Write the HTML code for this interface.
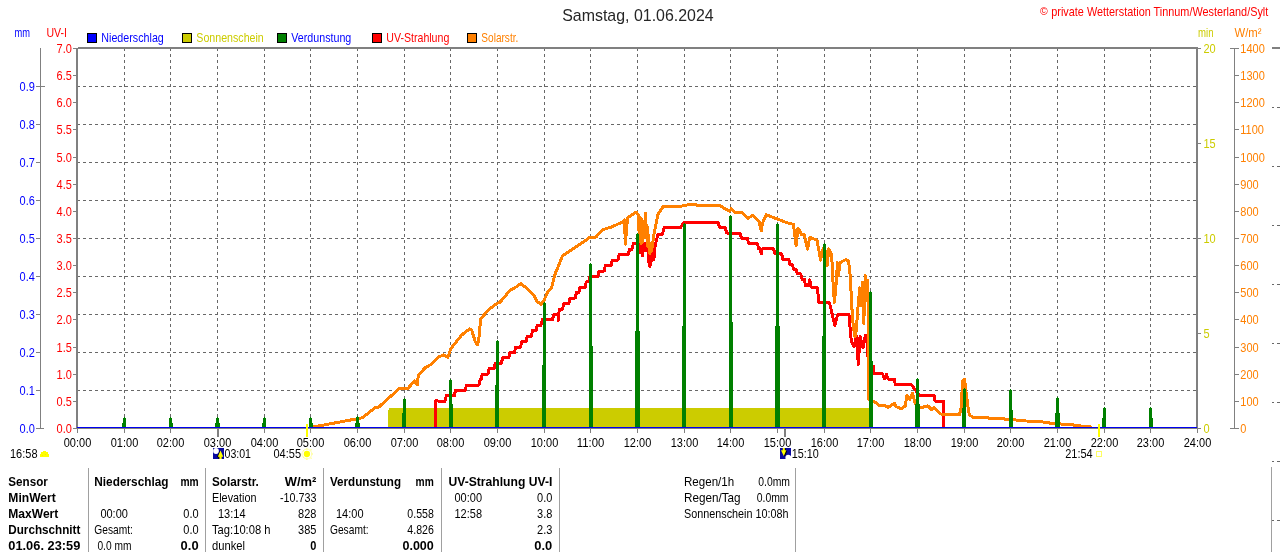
<!DOCTYPE html>
<html><head><meta charset="utf-8"><title>Samstag, 01.06.2024</title>
<style>html,body{margin:0;padding:0;background:#fff;overflow:hidden}svg{display:block;will-change:transform}text{font-family:"Liberation Sans", sans-serif;white-space:pre}</style></head><body>
<svg width="1280" height="552" viewBox="0 0 1280 552">
<rect x="0" y="0" width="1280" height="552" fill="#ffffff"/>
<g stroke="#686868" stroke-width="1" stroke-dasharray="3 3" shape-rendering="crispEdges" fill="none">
<line x1="124.5" y1="48" x2="124.5" y2="427"/>
<line x1="170.5" y1="48" x2="170.5" y2="427"/>
<line x1="217.5" y1="48" x2="217.5" y2="427"/>
<line x1="264.5" y1="48" x2="264.5" y2="427"/>
<line x1="310.5" y1="48" x2="310.5" y2="427"/>
<line x1="357.5" y1="48" x2="357.5" y2="427"/>
<line x1="404.5" y1="48" x2="404.5" y2="427"/>
<line x1="450.5" y1="48" x2="450.5" y2="427"/>
<line x1="497.5" y1="48" x2="497.5" y2="427"/>
<line x1="544.5" y1="48" x2="544.5" y2="427"/>
<line x1="590.5" y1="48" x2="590.5" y2="427"/>
<line x1="637.5" y1="48" x2="637.5" y2="427"/>
<line x1="684.5" y1="48" x2="684.5" y2="427"/>
<line x1="730.5" y1="48" x2="730.5" y2="427"/>
<line x1="777.5" y1="48" x2="777.5" y2="427"/>
<line x1="824.5" y1="48" x2="824.5" y2="427"/>
<line x1="870.5" y1="48" x2="870.5" y2="427"/>
<line x1="917.5" y1="48" x2="917.5" y2="427"/>
<line x1="964.5" y1="48" x2="964.5" y2="427"/>
<line x1="1010.5" y1="48" x2="1010.5" y2="427"/>
<line x1="1057.5" y1="48" x2="1057.5" y2="427"/>
<line x1="1104.5" y1="48" x2="1104.5" y2="427"/>
<line x1="1150.5" y1="48" x2="1150.5" y2="427"/>
<line x1="77" y1="390.5" x2="1196" y2="390.5"/>
<line x1="77" y1="352.5" x2="1196" y2="352.5"/>
<line x1="77" y1="314.5" x2="1196" y2="314.5"/>
<line x1="77" y1="276.5" x2="1196" y2="276.5"/>
<line x1="77" y1="238.5" x2="1196" y2="238.5"/>
<line x1="77" y1="200.5" x2="1196" y2="200.5"/>
<line x1="77" y1="162.5" x2="1196" y2="162.5"/>
<line x1="77" y1="124.5" x2="1196" y2="124.5"/>
<line x1="77" y1="86.5" x2="1196" y2="86.5"/>
</g>
<path d="M389 408H869V428H388V410H389Z" fill="#cccc00" shape-rendering="crispEdges"/>
<polyline fill="none" stroke="#ff0000" stroke-width="3" stroke-linejoin="round" stroke-linecap="butt" shape-rendering="crispEdges" points="435.5,428.0 435.5,400.9 445,401.3 446.2,395.8 454.3,395.8 455.5,390.4 465.2,390.4 466.4,385.0 479,385.0 480.2,379.5 481,379.5 482.2,374.1 488,374.1 489.2,368.7 494,368.7 495.2,363.3 501.4,363.3 502.59999999999997,357.8 508.7,357.8 509.9,352.4 514.5,352.4 515.7,347.0 520.5,347.0 521.7,341.5 526,341.5 527.2,336.1 531.3,336.1 532.5,330.7 536,330.7 537.2,325.3 541,325.3 542.2,319.8 552.5,319.8 553.7,314.4 558,314.4 558.4,320.4 559.2,309.0 562.5,309.0 563.7,303.5 568.8,303.5 570.0,298.1 575.2,298.1 576.4000000000001,292.7 578.8,292.7 580.0,287.3 585.1,287.3 586.3000000000001,281.8 588.8,281.8 590.0,276.4 597.8,276.4 599.0,271.0 604.2,271.0 605.4000000000001,265.5 611,265.5 612.2,260.1 618,260.1 619.2,254.7 628.3,254.7 629.5,249.3 632,249.3 633.2,243.8 639,243.8 640.4,253.0 641.4,243.5 642.6,255.5 643.6,243.5 644.6,250.5 645.6,243.5 646.6,250.5 647.6,244.0 648.6,262.0 649.4,248.0 650,266.5 651,250.0 652,261.0 653,250.0 653.8,260.0 655,247.0 656.5,240.0 658,234.0 662.5,234.0 664.3,227.5 680.6,227.5 684.2,222.2 717.8,222.2 719.6,227.1 725,227.1 726.8,233.0 740,233.0 741.5,238.1 747.2,238.1 748.7,243.2 757.2,243.2 758.7,248.8 760.4,248.8 761.2,254.0 762.2,248.8 773.5,248.8 775,253.9 781.6,253.9 783,259.3 788.9,259.3 790,264.7 792.5,264.7 793.6,269.3 796.1,269.3 797.3,273.8 800.7,273.8 802,279.2 804.3,279.2 805.6,285.6 808.6,285.6 809.7,280.0 810.8,285.6 811.8,287.5 817.2,287.5 819,302.5 829.6,303.0 832.6,316.0 834.8,325.7 837.8,314.2 848.9,314.2 851.2,340.5 854.1,346.5 856.4,336.0 858.3,364.3 860.1,336.0 863,348.0 865.3,335.3 867.2,337.5 868.4,366.0 873.5,366.0 874.2,373.7 882.5,373.7 884.3,379.0 886.5,374.4 888,379.0 894.3,379.0 895.3,384.6 911.5,384.6 915.1,389.8 919.7,395.4 934.2,395.4 935,401.0 943.2,401.0 943.2,428.0"/>
<polyline fill="none" stroke="#ff8000" stroke-width="3" stroke-linejoin="round" stroke-linecap="butt" shape-rendering="crispEdges" points="313,427.0 328.3,424.2 356.5,418.9 362.4,417.7 375.4,407.5 378.3,407.5 399,388.8 407.5,388.8 414.6,381.0 417.2,385.0 418.3,375.0 425.4,367.7 431.7,364.1 438.9,356.9 443.5,355.0 448,357.2 450.7,348.7 461.6,335.1 469.7,328.8 471.6,329.7 475.2,341.5 477.5,344.7 478.8,339.7 480.6,318.8 488.8,309.7 496.9,303.4 500,302.2 510,290.4 516.3,286.8 520.8,283.7 527.2,288.6 533.5,295.0 537.1,301.3 540.8,304.4 544.4,299.5 548,291.4 551.6,287.7 555.3,273.2 558,266.9 562.5,256.0 571.6,249.7 581.5,243.3 589.7,237.5 596,237.0 602.4,229.8 612.3,226.7 623.2,221.6 624.5,219.7 625.4,244.1 627.5,217.9 636.2,212.1 638,214.3 639.5,238.7 640.2,217.7 641,243.2 642,219.7 642.8,242.2 643.5,221.7 644.3,237.7 645.3,213.3 646.2,236.7 647,225.7 647.8,246.7 648.5,234.7 649.8,253.2 651.6,250.5 654.3,232.4 658,214.3 663.4,206.1 677.9,207.0 685.1,205.2 694.2,204.3 698.7,205.7 708.7,205.2 719.6,205.2 725,208.8 729.5,211.2 731.3,208.8 735.4,212.9 742.7,212.9 748.1,218.3 752.6,215.3 759,221.1 761.2,231.0 762.6,222.9 766.2,214.7 777.1,218.9 786.2,222.5 793.4,224.3 796.1,245.5 797.9,228.3 799.7,230.1 801.6,234.6 804.3,234.7 807.5,249.1 809.7,237.4 817,240.1 820.6,260.0 823.3,248.2 826,251.9 827.4,265.3 828.6,248.7 831.6,254.0 833.2,286.0 834.4,302.4 836.2,282.4 837.5,262.7 838.5,275.7 839.8,262.7 846.2,259.4 848.6,261.5 850.4,276.9 851.6,304.1 853.4,327.7 855,336.7 856.2,331.3 857.6,311.4 859.8,287.8 861,305.7 862.5,282.4 863.8,323.7 865.2,275.1 866.5,300.7 867.9,280.6 868.6,399.5 875.3,402.3 879.8,405.9 884.3,405.0 888,407.7 894.3,403.2 896.1,406.7 901.6,409.0 905.2,405.9 907,395.0 909.7,399.5 912.4,393.2 915.1,403.2 920.6,407.7 927.8,405.9 931.4,409.5 934.2,407.7 940.5,414.0 945.9,414.2 956.8,414.8 959.4,415.0 961.25,407.5 962.5,381.25 964.6,379.4 965.6,388.75 966.9,398.75 968.1,407.5 969.4,415.0 973.1,417.25 987.5,417.5 988.75,418.4 1003.75,418.75 1005,419.6 1015,419.6 1017.5,420.6 1026.25,421.0 1040,421.5 1050,423.1 1062.5,424.1 1072.5,424.6 1075,425.6 1087.5,426.5 1091.9,427.25"/>
<g fill="#008000" shape-rendering="crispEdges">
<rect x="124" y="417" width="1" height="2"/>
<rect x="123" y="418" width="3" height="10"/>
<rect x="122" y="423" width="4" height="5"/>
<rect x="170" y="417" width="1" height="2"/>
<rect x="169" y="418" width="3" height="10"/>
<rect x="169" y="423" width="4" height="5"/>
<rect x="217" y="417" width="1" height="2"/>
<rect x="216" y="418" width="3" height="10"/>
<rect x="215" y="423" width="5" height="5"/>
<rect x="264" y="417" width="1" height="2"/>
<rect x="263" y="418" width="3" height="10"/>
<rect x="262" y="423" width="4" height="5"/>
<rect x="310" y="417" width="1" height="2"/>
<rect x="309" y="418" width="3" height="10"/>
<rect x="309" y="423" width="4" height="5"/>
<rect x="357" y="416" width="1" height="2"/>
<rect x="356" y="417" width="3" height="11"/>
<rect x="355" y="423" width="5" height="5"/>
<rect x="404" y="398" width="1" height="2"/>
<rect x="403" y="399" width="3" height="29"/>
<rect x="402" y="413" width="4" height="15"/>
<rect x="450" y="379" width="1" height="2"/>
<rect x="449" y="380" width="3" height="48"/>
<rect x="449" y="404" width="4" height="24"/>
<rect x="497" y="340" width="1" height="2"/>
<rect x="496" y="341" width="3" height="87"/>
<rect x="495" y="385" width="4" height="43"/>
<rect x="544" y="302" width="1" height="2"/>
<rect x="543" y="303" width="3" height="125"/>
<rect x="542" y="365" width="4" height="63"/>
<rect x="590" y="263" width="1" height="2"/>
<rect x="589" y="264" width="3" height="164"/>
<rect x="589" y="346" width="4" height="82"/>
<rect x="637" y="233" width="1" height="2"/>
<rect x="636" y="234" width="3" height="194"/>
<rect x="635" y="331" width="5" height="97"/>
<rect x="684" y="223" width="1" height="2"/>
<rect x="683" y="224" width="3" height="204"/>
<rect x="682" y="326" width="4" height="102"/>
<rect x="730" y="215" width="1" height="2"/>
<rect x="729" y="216" width="3" height="212"/>
<rect x="729" y="322" width="4" height="106"/>
<rect x="777" y="223" width="1" height="2"/>
<rect x="776" y="224" width="3" height="204"/>
<rect x="775" y="326" width="5" height="102"/>
<rect x="824" y="243" width="1" height="2"/>
<rect x="823" y="244" width="3" height="184"/>
<rect x="822" y="336" width="4" height="92"/>
<rect x="870" y="291" width="1" height="2"/>
<rect x="869" y="292" width="3" height="136"/>
<rect x="869" y="361" width="4" height="67"/>
<rect x="917" y="378" width="1" height="2"/>
<rect x="916" y="379" width="3" height="49"/>
<rect x="915" y="404" width="5" height="24"/>
<rect x="964" y="388" width="1" height="2"/>
<rect x="963" y="389" width="3" height="39"/>
<rect x="962" y="408" width="4" height="20"/>
<rect x="1010" y="389" width="1" height="2"/>
<rect x="1009" y="390" width="3" height="38"/>
<rect x="1009" y="410" width="4" height="18"/>
<rect x="1057" y="397" width="1" height="2"/>
<rect x="1056" y="398" width="3" height="30"/>
<rect x="1055" y="413" width="5" height="15"/>
<rect x="1104" y="407" width="1" height="2"/>
<rect x="1103" y="408" width="3" height="20"/>
<rect x="1102" y="418" width="4" height="10"/>
<rect x="1150" y="407" width="1" height="2"/>
<rect x="1149" y="408" width="3" height="20"/>
<rect x="1149" y="418" width="4" height="10"/>
</g>
<g fill="#808080" shape-rendering="crispEdges">
<rect x="78" y="47" width="1120" height="2"/>
<rect x="76" y="48" width="2" height="381"/>
<rect x="1196" y="48" width="2" height="381"/>
<rect x="76" y="428" width="1122" height="1"/>
<rect x="77" y="429" width="1" height="4"/>
<rect x="124" y="429" width="1" height="4"/>
<rect x="170" y="429" width="1" height="4"/>
<rect x="217" y="429" width="1" height="4"/>
<rect x="264" y="429" width="1" height="4"/>
<rect x="310" y="429" width="1" height="4"/>
<rect x="357" y="429" width="1" height="4"/>
<rect x="404" y="429" width="1" height="4"/>
<rect x="450" y="429" width="1" height="4"/>
<rect x="497" y="429" width="1" height="4"/>
<rect x="544" y="429" width="1" height="4"/>
<rect x="590" y="429" width="1" height="4"/>
<rect x="637" y="429" width="1" height="4"/>
<rect x="684" y="429" width="1" height="4"/>
<rect x="730" y="429" width="1" height="4"/>
<rect x="777" y="429" width="1" height="4"/>
<rect x="824" y="429" width="1" height="4"/>
<rect x="870" y="429" width="1" height="4"/>
<rect x="917" y="429" width="1" height="4"/>
<rect x="964" y="429" width="1" height="4"/>
<rect x="1010" y="429" width="1" height="4"/>
<rect x="1057" y="429" width="1" height="4"/>
<rect x="1104" y="429" width="1" height="4"/>
<rect x="1150" y="429" width="1" height="4"/>
<rect x="1197" y="429" width="1" height="4"/>
<rect x="217" y="429" width="2" height="8"/>
<rect x="784" y="429" width="2" height="8"/>
<rect x="40" y="48" width="1" height="381"/>
<rect x="36" y="428" width="8" height="1"/>
<rect x="36" y="390" width="4" height="1"/>
<rect x="36" y="352" width="4" height="1"/>
<rect x="36" y="314" width="4" height="1"/>
<rect x="36" y="276" width="4" height="1"/>
<rect x="36" y="238" width="4" height="1"/>
<rect x="36" y="200" width="4" height="1"/>
<rect x="36" y="162" width="4" height="1"/>
<rect x="36" y="124" width="4" height="1"/>
<rect x="36" y="86" width="9" height="1"/>
<rect x="73" y="428" width="3" height="1"/>
<rect x="73" y="401" width="3" height="1"/>
<rect x="73" y="374" width="3" height="1"/>
<rect x="73" y="347" width="3" height="1"/>
<rect x="73" y="319" width="3" height="1"/>
<rect x="73" y="292" width="3" height="1"/>
<rect x="73" y="265" width="3" height="1"/>
<rect x="73" y="238" width="3" height="1"/>
<rect x="73" y="211" width="3" height="1"/>
<rect x="73" y="184" width="3" height="1"/>
<rect x="73" y="157" width="3" height="1"/>
<rect x="73" y="129" width="3" height="1"/>
<rect x="73" y="102" width="3" height="1"/>
<rect x="73" y="75" width="3" height="1"/>
<rect x="73" y="48" width="3" height="1"/>
<rect x="1198" y="428" width="3" height="1"/>
<rect x="1198" y="333" width="3" height="1"/>
<rect x="1198" y="238" width="3" height="1"/>
<rect x="1198" y="143" width="3" height="1"/>
<rect x="1198" y="48" width="3" height="1"/>
<rect x="1234" y="48" width="1" height="381"/>
<rect x="1230" y="428" width="9" height="1"/>
<rect x="1235" y="401" width="4" height="1"/>
<rect x="1235" y="374" width="4" height="1"/>
<rect x="1235" y="347" width="4" height="1"/>
<rect x="1235" y="319" width="4" height="1"/>
<rect x="1235" y="292" width="4" height="1"/>
<rect x="1235" y="265" width="4" height="1"/>
<rect x="1235" y="238" width="4" height="1"/>
<rect x="1235" y="211" width="4" height="1"/>
<rect x="1235" y="184" width="4" height="1"/>
<rect x="1235" y="157" width="4" height="1"/>
<rect x="1235" y="129" width="4" height="1"/>
<rect x="1235" y="102" width="4" height="1"/>
<rect x="1235" y="75" width="4" height="1"/>
<rect x="1230" y="48" width="9" height="1"/>
</g>
<rect x="77" y="427" width="1120" height="1" fill="#0000f0" shape-rendering="crispEdges"/>
<rect x="306" y="424" width="2" height="13" fill="#ffff00" shape-rendering="crispEdges"/>
<rect x="1098" y="424" width="2" height="13" fill="#ffff00" shape-rendering="crispEdges"/>
<g fill="#808080" shape-rendering="crispEdges">
<rect x="1272" y="47" width="8" height="2"/>
</g>
<rect x="1271" y="467" width="1" height="85" fill="#a0a0a0" shape-rendering="crispEdges"/>
<g fill="#686868" shape-rendering="crispEdges">
<rect x="1272" y="107" width="2" height="1"/><rect x="1277" y="107" width="3" height="1"/>
<rect x="1272" y="166" width="2" height="1"/><rect x="1277" y="166" width="3" height="1"/>
<rect x="1272" y="225" width="2" height="1"/><rect x="1277" y="225" width="3" height="1"/>
<rect x="1272" y="284" width="2" height="1"/><rect x="1277" y="284" width="3" height="1"/>
<rect x="1272" y="343" width="2" height="1"/><rect x="1277" y="343" width="3" height="1"/>
<rect x="1272" y="402" width="2" height="1"/><rect x="1277" y="402" width="3" height="1"/>
<rect x="1272" y="461" width="2" height="1"/><rect x="1277" y="461" width="3" height="1"/>
<rect x="1272" y="520" width="2" height="1"/><rect x="1277" y="520" width="3" height="1"/>
</g>
<text transform="translate(562.2 21) scale(0.955 1)" text-anchor="start" fill="#262626" font-weight="normal" font-size="16.75" textLength="158.64" lengthAdjust="spacingAndGlyphs">Samstag, 01.06.2024</text>
<text transform="translate(1040 14.6) scale(1 1)" text-anchor="start" fill="#ff0000" font-weight="normal" font-size="10.5">©</text>
<text transform="translate(1051.3 16) scale(0.88 1)" text-anchor="start" fill="#ff0000" font-weight="normal" font-size="12.5" textLength="246.59" lengthAdjust="spacingAndGlyphs">private Wetterstation Tinnum/Westerland/Sylt</text>
<text transform="translate(14.5 37) scale(0.88 1)" text-anchor="start" fill="#0000ff" font-weight="normal" font-size="12.5" textLength="17.61" lengthAdjust="spacingAndGlyphs">mm</text>
<text transform="translate(46.5 37) scale(0.88 1)" text-anchor="start" fill="#ff0000" font-weight="normal" font-size="12.5" textLength="23.3" lengthAdjust="spacingAndGlyphs">UV-I</text>
<text transform="translate(1198 37) scale(0.88 1)" text-anchor="start" fill="#cccc00" font-weight="normal" font-size="12.5" textLength="17.61" lengthAdjust="spacingAndGlyphs">min</text>
<text transform="translate(1234.5 37) scale(0.88 1)" text-anchor="start" fill="#ff8000" font-weight="normal" font-size="12.5" textLength="30.68" lengthAdjust="spacingAndGlyphs">W/m²</text>
<rect x="87.5" y="33.5" width="9" height="9" fill="#0000ff" stroke="#000" stroke-width="1" shape-rendering="crispEdges"/>
<text transform="translate(101.3 42) scale(0.88 1)" text-anchor="start" fill="#0000ff" font-weight="normal" font-size="12.5" textLength="71.02" lengthAdjust="spacingAndGlyphs">Niederschlag</text>
<rect x="182.5" y="33.5" width="9" height="9" fill="#cccc00" stroke="#000" stroke-width="1" shape-rendering="crispEdges"/>
<text transform="translate(196.3 42) scale(0.88 1)" text-anchor="start" fill="#cccc00" font-weight="normal" font-size="12.5" textLength="76.7" lengthAdjust="spacingAndGlyphs">Sonnenschein</text>
<rect x="277.5" y="33.5" width="9" height="9" fill="#008000" stroke="#000" stroke-width="1" shape-rendering="crispEdges"/>
<text transform="translate(291.3 42) scale(0.88 1)" text-anchor="start" fill="#0000ff" font-weight="normal" font-size="12.5" textLength="68.18" lengthAdjust="spacingAndGlyphs">Verdunstung</text>
<rect x="372.5" y="33.5" width="9" height="9" fill="#ff0000" stroke="#000" stroke-width="1" shape-rendering="crispEdges"/>
<text transform="translate(386.3 42) scale(0.88 1)" text-anchor="start" fill="#ff0000" font-weight="normal" font-size="12.5" textLength="71.59" lengthAdjust="spacingAndGlyphs">UV-Strahlung</text>
<rect x="467.5" y="33.5" width="9" height="9" fill="#ff8000" stroke="#000" stroke-width="1" shape-rendering="crispEdges"/>
<text transform="translate(481.3 42) scale(0.88 1)" text-anchor="start" fill="#ff8000" font-weight="normal" font-size="12.5" textLength="42.05" lengthAdjust="spacingAndGlyphs">Solarstr.</text>
<text transform="translate(34.8 433) scale(0.88 1)" text-anchor="end" fill="#0000ff" font-weight="normal" font-size="12.5">0.0</text>
<text transform="translate(34.8 395) scale(0.88 1)" text-anchor="end" fill="#0000ff" font-weight="normal" font-size="12.5">0.1</text>
<text transform="translate(34.8 357) scale(0.88 1)" text-anchor="end" fill="#0000ff" font-weight="normal" font-size="12.5">0.2</text>
<text transform="translate(34.8 319) scale(0.88 1)" text-anchor="end" fill="#0000ff" font-weight="normal" font-size="12.5">0.3</text>
<text transform="translate(34.8 281) scale(0.88 1)" text-anchor="end" fill="#0000ff" font-weight="normal" font-size="12.5">0.4</text>
<text transform="translate(34.8 243) scale(0.88 1)" text-anchor="end" fill="#0000ff" font-weight="normal" font-size="12.5">0.5</text>
<text transform="translate(34.8 205) scale(0.88 1)" text-anchor="end" fill="#0000ff" font-weight="normal" font-size="12.5">0.6</text>
<text transform="translate(34.8 167) scale(0.88 1)" text-anchor="end" fill="#0000ff" font-weight="normal" font-size="12.5">0.7</text>
<text transform="translate(34.8 129) scale(0.88 1)" text-anchor="end" fill="#0000ff" font-weight="normal" font-size="12.5">0.8</text>
<text transform="translate(34.8 91) scale(0.88 1)" text-anchor="end" fill="#0000ff" font-weight="normal" font-size="12.5">0.9</text>
<text transform="translate(71.8 433) scale(0.88 1)" text-anchor="end" fill="#ff0000" font-weight="normal" font-size="12.5">0.0</text>
<text transform="translate(71.8 406) scale(0.88 1)" text-anchor="end" fill="#ff0000" font-weight="normal" font-size="12.5">0.5</text>
<text transform="translate(71.8 379) scale(0.88 1)" text-anchor="end" fill="#ff0000" font-weight="normal" font-size="12.5">1.0</text>
<text transform="translate(71.8 352) scale(0.88 1)" text-anchor="end" fill="#ff0000" font-weight="normal" font-size="12.5">1.5</text>
<text transform="translate(71.8 324) scale(0.88 1)" text-anchor="end" fill="#ff0000" font-weight="normal" font-size="12.5">2.0</text>
<text transform="translate(71.8 297) scale(0.88 1)" text-anchor="end" fill="#ff0000" font-weight="normal" font-size="12.5">2.5</text>
<text transform="translate(71.8 270) scale(0.88 1)" text-anchor="end" fill="#ff0000" font-weight="normal" font-size="12.5">3.0</text>
<text transform="translate(71.8 243) scale(0.88 1)" text-anchor="end" fill="#ff0000" font-weight="normal" font-size="12.5">3.5</text>
<text transform="translate(71.8 216) scale(0.88 1)" text-anchor="end" fill="#ff0000" font-weight="normal" font-size="12.5">4.0</text>
<text transform="translate(71.8 189) scale(0.88 1)" text-anchor="end" fill="#ff0000" font-weight="normal" font-size="12.5">4.5</text>
<text transform="translate(71.8 162) scale(0.88 1)" text-anchor="end" fill="#ff0000" font-weight="normal" font-size="12.5">5.0</text>
<text transform="translate(71.8 134) scale(0.88 1)" text-anchor="end" fill="#ff0000" font-weight="normal" font-size="12.5">5.5</text>
<text transform="translate(71.8 107) scale(0.88 1)" text-anchor="end" fill="#ff0000" font-weight="normal" font-size="12.5">6.0</text>
<text transform="translate(71.8 80) scale(0.88 1)" text-anchor="end" fill="#ff0000" font-weight="normal" font-size="12.5">6.5</text>
<text transform="translate(71.8 53) scale(0.88 1)" text-anchor="end" fill="#ff0000" font-weight="normal" font-size="12.5">7.0</text>
<text transform="translate(1203.5 433) scale(0.88 1)" text-anchor="start" fill="#cccc00" font-weight="normal" font-size="12.5">0</text>
<text transform="translate(1203.5 338) scale(0.88 1)" text-anchor="start" fill="#cccc00" font-weight="normal" font-size="12.5">5</text>
<text transform="translate(1203.5 243) scale(0.88 1)" text-anchor="start" fill="#cccc00" font-weight="normal" font-size="12.5">10</text>
<text transform="translate(1203.5 148) scale(0.88 1)" text-anchor="start" fill="#cccc00" font-weight="normal" font-size="12.5">15</text>
<text transform="translate(1203.5 53) scale(0.88 1)" text-anchor="start" fill="#cccc00" font-weight="normal" font-size="12.5">20</text>
<text transform="translate(1240.3 433) scale(0.88 1)" text-anchor="start" fill="#ff8000" font-weight="normal" font-size="12.5">0</text>
<text transform="translate(1240.3 406) scale(0.88 1)" text-anchor="start" fill="#ff8000" font-weight="normal" font-size="12.5">100</text>
<text transform="translate(1240.3 379) scale(0.88 1)" text-anchor="start" fill="#ff8000" font-weight="normal" font-size="12.5">200</text>
<text transform="translate(1240.3 352) scale(0.88 1)" text-anchor="start" fill="#ff8000" font-weight="normal" font-size="12.5">300</text>
<text transform="translate(1240.3 324) scale(0.88 1)" text-anchor="start" fill="#ff8000" font-weight="normal" font-size="12.5">400</text>
<text transform="translate(1240.3 297) scale(0.88 1)" text-anchor="start" fill="#ff8000" font-weight="normal" font-size="12.5">500</text>
<text transform="translate(1240.3 270) scale(0.88 1)" text-anchor="start" fill="#ff8000" font-weight="normal" font-size="12.5">600</text>
<text transform="translate(1240.3 243) scale(0.88 1)" text-anchor="start" fill="#ff8000" font-weight="normal" font-size="12.5">700</text>
<text transform="translate(1240.3 216) scale(0.88 1)" text-anchor="start" fill="#ff8000" font-weight="normal" font-size="12.5">800</text>
<text transform="translate(1240.3 189) scale(0.88 1)" text-anchor="start" fill="#ff8000" font-weight="normal" font-size="12.5">900</text>
<text transform="translate(1240.3 162) scale(0.88 1)" text-anchor="start" fill="#ff8000" font-weight="normal" font-size="12.5">1000</text>
<text transform="translate(1240.3 134) scale(0.88 1)" text-anchor="start" fill="#ff8000" font-weight="normal" font-size="12.5">1100</text>
<text transform="translate(1240.3 107) scale(0.88 1)" text-anchor="start" fill="#ff8000" font-weight="normal" font-size="12.5">1200</text>
<text transform="translate(1240.3 80) scale(0.88 1)" text-anchor="start" fill="#ff8000" font-weight="normal" font-size="12.5">1300</text>
<text transform="translate(1240.3 53) scale(0.88 1)" text-anchor="start" fill="#ff8000" font-weight="normal" font-size="12.5">1400</text>
<text transform="translate(77.5 447) scale(0.88 1)" text-anchor="middle" fill="#000" font-weight="normal" font-size="12.5" textLength="31.25" lengthAdjust="spacingAndGlyphs">00:00</text>
<text transform="translate(124.5 447) scale(0.88 1)" text-anchor="middle" fill="#000" font-weight="normal" font-size="12.5" textLength="31.25" lengthAdjust="spacingAndGlyphs">01:00</text>
<text transform="translate(170.5 447) scale(0.88 1)" text-anchor="middle" fill="#000" font-weight="normal" font-size="12.5" textLength="31.25" lengthAdjust="spacingAndGlyphs">02:00</text>
<text transform="translate(217.5 447) scale(0.88 1)" text-anchor="middle" fill="#000" font-weight="normal" font-size="12.5" textLength="31.25" lengthAdjust="spacingAndGlyphs">03:00</text>
<text transform="translate(264.5 447) scale(0.88 1)" text-anchor="middle" fill="#000" font-weight="normal" font-size="12.5" textLength="31.25" lengthAdjust="spacingAndGlyphs">04:00</text>
<text transform="translate(310.5 447) scale(0.88 1)" text-anchor="middle" fill="#000" font-weight="normal" font-size="12.5" textLength="31.25" lengthAdjust="spacingAndGlyphs">05:00</text>
<text transform="translate(357.5 447) scale(0.88 1)" text-anchor="middle" fill="#000" font-weight="normal" font-size="12.5" textLength="31.25" lengthAdjust="spacingAndGlyphs">06:00</text>
<text transform="translate(404.5 447) scale(0.88 1)" text-anchor="middle" fill="#000" font-weight="normal" font-size="12.5" textLength="31.25" lengthAdjust="spacingAndGlyphs">07:00</text>
<text transform="translate(450.5 447) scale(0.88 1)" text-anchor="middle" fill="#000" font-weight="normal" font-size="12.5" textLength="31.25" lengthAdjust="spacingAndGlyphs">08:00</text>
<text transform="translate(497.5 447) scale(0.88 1)" text-anchor="middle" fill="#000" font-weight="normal" font-size="12.5" textLength="31.25" lengthAdjust="spacingAndGlyphs">09:00</text>
<text transform="translate(544.5 447) scale(0.88 1)" text-anchor="middle" fill="#000" font-weight="normal" font-size="12.5" textLength="31.25" lengthAdjust="spacingAndGlyphs">10:00</text>
<text transform="translate(590.5 447) scale(0.88 1)" text-anchor="middle" fill="#000" font-weight="normal" font-size="12.5" textLength="31.25" lengthAdjust="spacingAndGlyphs">11:00</text>
<text transform="translate(637.5 447) scale(0.88 1)" text-anchor="middle" fill="#000" font-weight="normal" font-size="12.5" textLength="31.25" lengthAdjust="spacingAndGlyphs">12:00</text>
<text transform="translate(684.5 447) scale(0.88 1)" text-anchor="middle" fill="#000" font-weight="normal" font-size="12.5" textLength="31.25" lengthAdjust="spacingAndGlyphs">13:00</text>
<text transform="translate(730.5 447) scale(0.88 1)" text-anchor="middle" fill="#000" font-weight="normal" font-size="12.5" textLength="31.25" lengthAdjust="spacingAndGlyphs">14:00</text>
<text transform="translate(777.5 447) scale(0.88 1)" text-anchor="middle" fill="#000" font-weight="normal" font-size="12.5" textLength="31.25" lengthAdjust="spacingAndGlyphs">15:00</text>
<text transform="translate(824.5 447) scale(0.88 1)" text-anchor="middle" fill="#000" font-weight="normal" font-size="12.5" textLength="31.25" lengthAdjust="spacingAndGlyphs">16:00</text>
<text transform="translate(870.5 447) scale(0.88 1)" text-anchor="middle" fill="#000" font-weight="normal" font-size="12.5" textLength="31.25" lengthAdjust="spacingAndGlyphs">17:00</text>
<text transform="translate(917.5 447) scale(0.88 1)" text-anchor="middle" fill="#000" font-weight="normal" font-size="12.5" textLength="31.25" lengthAdjust="spacingAndGlyphs">18:00</text>
<text transform="translate(964.5 447) scale(0.88 1)" text-anchor="middle" fill="#000" font-weight="normal" font-size="12.5" textLength="31.25" lengthAdjust="spacingAndGlyphs">19:00</text>
<text transform="translate(1010.5 447) scale(0.88 1)" text-anchor="middle" fill="#000" font-weight="normal" font-size="12.5" textLength="31.25" lengthAdjust="spacingAndGlyphs">20:00</text>
<text transform="translate(1057.5 447) scale(0.88 1)" text-anchor="middle" fill="#000" font-weight="normal" font-size="12.5" textLength="31.25" lengthAdjust="spacingAndGlyphs">21:00</text>
<text transform="translate(1104.5 447) scale(0.88 1)" text-anchor="middle" fill="#000" font-weight="normal" font-size="12.5" textLength="31.25" lengthAdjust="spacingAndGlyphs">22:00</text>
<text transform="translate(1150.5 447) scale(0.88 1)" text-anchor="middle" fill="#000" font-weight="normal" font-size="12.5" textLength="31.25" lengthAdjust="spacingAndGlyphs">23:00</text>
<text transform="translate(1197.5 447) scale(0.88 1)" text-anchor="middle" fill="#000" font-weight="normal" font-size="12.5" textLength="31.25" lengthAdjust="spacingAndGlyphs">24:00</text>
<text transform="translate(10 458) scale(0.88 1)" text-anchor="start" fill="#000" font-weight="normal" font-size="12.5" textLength="31.25" lengthAdjust="spacingAndGlyphs">16:58</text>
<text transform="translate(224.5 458) scale(0.88 1)" text-anchor="start" fill="#000" font-weight="normal" font-size="12.5" textLength="30.11" lengthAdjust="spacingAndGlyphs">03:01</text>
<text transform="translate(273.5 458) scale(0.88 1)" text-anchor="start" fill="#000" font-weight="normal" font-size="12.5" textLength="31.25" lengthAdjust="spacingAndGlyphs">04:55</text>
<text transform="translate(791.8 458) scale(0.88 1)" text-anchor="start" fill="#000" font-weight="normal" font-size="12.5" textLength="30.68" lengthAdjust="spacingAndGlyphs">15:10</text>
<text transform="translate(1065.2 458) scale(0.88 1)" text-anchor="start" fill="#000" font-weight="normal" font-size="12.5" textLength="31.25" lengthAdjust="spacingAndGlyphs">21:54</text>
<g fill="#ffff00" shape-rendering="crispEdges"><rect x="43" y="451" width="3" height="1"/><rect x="41" y="452" width="7" height="2"/><rect x="40" y="454" width="9" height="3"/></g>
<g fill="#ffe400" shape-rendering="crispEdges"><rect x="42" y="455" width="1" height="1"/><rect x="45" y="454" width="1" height="1"/></g>
<clipPath id="c1"><rect x="213" y="448" width="11" height="11"/></clipPath>
<g clip-path="url(#c1)"><rect x="213" y="448" width="11" height="11" fill="#0808a0" shape-rendering="crispEdges"/>
<circle cx="216" cy="451" r="2.9" fill="#fff"/>
<path d="M219.5 450.9 L222.3 457.3 L220.7 457.3 L220.7 459.5 L218.4 459.5 L218.4 457.3 L216.8 457.3 Z" fill="#000"/>
<path d="M220.5 450.4 L223.3 456.8 L221.7 456.8 L221.7 459 L219.4 459 L219.4 456.8 L217.8 456.8 Z" fill="#ffff00"/></g>
<circle cx="306.9" cy="454" r="4.9" fill="none" stroke="#ffffb0" stroke-width="1"/>
<g stroke="#ffff80" stroke-width="1.2" fill="none"><path d="M306.9 448.2V449.6M306.9 458.4V459.9M311.6 454H313M303.2 450.3L304 451.1M310.6 450.3L311.5 449.4M303.2 457.7L304 456.9M310.6 457.7L311.5 458.6"/></g>
<circle cx="306.9" cy="454" r="3.15" fill="#ffff00"/>
<clipPath id="c2"><rect x="780" y="448" width="11" height="11"/></clipPath>
<g clip-path="url(#c2)"><rect x="780" y="448" width="11" height="11" fill="#0808a0" shape-rendering="crispEdges"/>
<circle cx="788.3" cy="457.6" r="2.9" fill="#fff"/>
<path d="M783.8 448.6 L785.8 448.6 L785.8 450.8 L787.3 450.8 L784.8 456.7 L782 450.8 L783.8 450.8 Z" fill="#000"/>
<path d="M782.8 448 L784.8 448 L784.8 450.2 L786.3 450.2 L783.8 456 L781 450.2 L782.8 450.2 Z" fill="#ffff00"/></g>
<rect x="1096.5" y="451.5" width="5" height="5" fill="#fff" stroke="#ffff60" stroke-width="1" shape-rendering="crispEdges"/>
<g fill="#a0a0a0" shape-rendering="crispEdges">
<rect x="88" y="468" width="1" height="84"/>
<rect x="205" y="468" width="1" height="84"/>
<rect x="323" y="468" width="1" height="84"/>
<rect x="441" y="468" width="1" height="84"/>
<rect x="559" y="468" width="1" height="84"/>
<rect x="795" y="468" width="1" height="84"/>
</g>
<text transform="translate(8.3 486) scale(0.88 1)" text-anchor="start" fill="#000" font-weight="bold" font-size="12.5" textLength="44.89" lengthAdjust="spacingAndGlyphs">Sensor</text>
<text transform="translate(8.3 502) scale(0.88 1)" text-anchor="start" fill="#000" font-weight="bold" font-size="12.5" textLength="53.98" lengthAdjust="spacingAndGlyphs">MinWert</text>
<text transform="translate(8.3 518) scale(0.88 1)" text-anchor="start" fill="#000" font-weight="bold" font-size="12.5" textLength="56.82" lengthAdjust="spacingAndGlyphs">MaxWert</text>
<text transform="translate(8.3 534) scale(0.88 1)" text-anchor="start" fill="#000" font-weight="bold" font-size="12.5" textLength="81.82" lengthAdjust="spacingAndGlyphs">Durchschnitt</text>
<text transform="translate(8.3 550) scale(0.88 1)" text-anchor="start" fill="#000" font-weight="bold" font-size="12.5" textLength="81.82" lengthAdjust="spacingAndGlyphs">01.06. 23:59</text>
<text transform="translate(94.3 486) scale(0.88 1)" text-anchor="start" fill="#000" font-weight="bold" font-size="12.5" textLength="84.32" lengthAdjust="spacingAndGlyphs">Niederschlag</text>
<text transform="translate(198.6 486) scale(0.88 1)" text-anchor="end" fill="#000" font-weight="bold" font-size="12.5" textLength="20.68" lengthAdjust="spacingAndGlyphs">mm</text>
<text transform="translate(100.4 518) scale(0.88 1)" text-anchor="start" fill="#000" font-weight="normal" font-size="12.5" textLength="31.25" lengthAdjust="spacingAndGlyphs">00:00</text>
<text transform="translate(198.6 518) scale(0.88 1)" text-anchor="end" fill="#000" font-weight="normal" font-size="12.5">0.0</text>
<text transform="translate(94.3 534) scale(0.88 1)" text-anchor="start" fill="#000" font-weight="normal" font-size="12.5" textLength="43.86" lengthAdjust="spacingAndGlyphs">Gesamt:</text>
<text transform="translate(198.6 534) scale(0.88 1)" text-anchor="end" fill="#000" font-weight="normal" font-size="12.5">0.0</text>
<text transform="translate(97.4 550) scale(0.88 1)" text-anchor="start" fill="#000" font-weight="normal" font-size="12.5" textLength="38.64" lengthAdjust="spacingAndGlyphs">0.0 mm</text>
<text transform="translate(198.6 550) scale(0.88 1)" text-anchor="end" fill="#000" font-weight="bold" font-size="12.5" textLength="20.45" lengthAdjust="spacingAndGlyphs">0.0</text>
<text transform="translate(212 486) scale(0.88 1)" text-anchor="start" fill="#000" font-weight="bold" font-size="12.5" textLength="53.18" lengthAdjust="spacingAndGlyphs">Solarstr.</text>
<text transform="translate(316.4 486) scale(0.88 1)" text-anchor="end" fill="#000" font-weight="bold" font-size="12.5" textLength="35.91" lengthAdjust="spacingAndGlyphs">W/m²</text>
<text transform="translate(212 502) scale(0.88 1)" text-anchor="start" fill="#000" font-weight="normal" font-size="12.5" textLength="50.57" lengthAdjust="spacingAndGlyphs">Elevation</text>
<text transform="translate(316.4 502) scale(0.88 1)" text-anchor="end" fill="#000" font-weight="normal" font-size="12.5" textLength="41.36" lengthAdjust="spacingAndGlyphs">-10.733</text>
<text transform="translate(218 518) scale(0.88 1)" text-anchor="start" fill="#000" font-weight="normal" font-size="12.5" textLength="31.25" lengthAdjust="spacingAndGlyphs">13:14</text>
<text transform="translate(316.4 518) scale(0.88 1)" text-anchor="end" fill="#000" font-weight="normal" font-size="12.5">828</text>
<text transform="translate(212 534) scale(0.88 1)" text-anchor="start" fill="#000" font-weight="normal" font-size="12.5" textLength="66.48" lengthAdjust="spacingAndGlyphs">Tag:10:08 h</text>
<text transform="translate(316.4 534) scale(0.88 1)" text-anchor="end" fill="#000" font-weight="normal" font-size="12.5">385</text>
<text transform="translate(212 550) scale(0.88 1)" text-anchor="start" fill="#000" font-weight="normal" font-size="12.5" textLength="37.5" lengthAdjust="spacingAndGlyphs">dunkel</text>
<text transform="translate(316.4 550) scale(0.88 1)" text-anchor="end" fill="#000" font-weight="bold" font-size="12.5">0</text>
<text transform="translate(330 486) scale(0.88 1)" text-anchor="start" fill="#000" font-weight="bold" font-size="12.5" textLength="80.68" lengthAdjust="spacingAndGlyphs">Verdunstung</text>
<text transform="translate(433.8 486) scale(0.88 1)" text-anchor="end" fill="#000" font-weight="bold" font-size="12.5" textLength="20.68" lengthAdjust="spacingAndGlyphs">mm</text>
<text transform="translate(336 518) scale(0.88 1)" text-anchor="start" fill="#000" font-weight="normal" font-size="12.5" textLength="31.25" lengthAdjust="spacingAndGlyphs">14:00</text>
<text transform="translate(433.8 518) scale(0.88 1)" text-anchor="end" fill="#000" font-weight="normal" font-size="12.5" textLength="30.11" lengthAdjust="spacingAndGlyphs">0.558</text>
<text transform="translate(330 534) scale(0.88 1)" text-anchor="start" fill="#000" font-weight="normal" font-size="12.5" textLength="43.86" lengthAdjust="spacingAndGlyphs">Gesamt:</text>
<text transform="translate(433.8 534) scale(0.88 1)" text-anchor="end" fill="#000" font-weight="normal" font-size="12.5" textLength="30.11" lengthAdjust="spacingAndGlyphs">4.826</text>
<text transform="translate(433.8 550) scale(0.88 1)" text-anchor="end" fill="#000" font-weight="bold" font-size="12.5" textLength="35.68" lengthAdjust="spacingAndGlyphs">0.000</text>
<text transform="translate(448.5 486) scale(0.88 1)" text-anchor="start" fill="#000" font-weight="bold" font-size="12.5" textLength="117.95" lengthAdjust="spacingAndGlyphs">UV-Strahlung UV-I</text>
<text transform="translate(454.5 502) scale(0.88 1)" text-anchor="start" fill="#000" font-weight="normal" font-size="12.5" textLength="31.25" lengthAdjust="spacingAndGlyphs">00:00</text>
<text transform="translate(552.3 502) scale(0.88 1)" text-anchor="end" fill="#000" font-weight="normal" font-size="12.5">0.0</text>
<text transform="translate(454.5 518) scale(0.88 1)" text-anchor="start" fill="#000" font-weight="normal" font-size="12.5" textLength="31.25" lengthAdjust="spacingAndGlyphs">12:58</text>
<text transform="translate(552.3 518) scale(0.88 1)" text-anchor="end" fill="#000" font-weight="normal" font-size="12.5">3.8</text>
<text transform="translate(552.3 534) scale(0.88 1)" text-anchor="end" fill="#000" font-weight="normal" font-size="12.5">2.3</text>
<text transform="translate(552.3 550) scale(0.88 1)" text-anchor="end" fill="#000" font-weight="bold" font-size="12.5" textLength="20.45" lengthAdjust="spacingAndGlyphs">0.0</text>
<text transform="translate(684 486) scale(0.88 1)" text-anchor="start" fill="#000" font-weight="normal" font-size="12.5" textLength="57.05" lengthAdjust="spacingAndGlyphs">Regen/1h</text>
<text transform="translate(790 486) scale(0.88 1)" text-anchor="end" fill="#000" font-weight="normal" font-size="12.5" textLength="36.14" lengthAdjust="spacingAndGlyphs">0.0mm</text>
<text transform="translate(684 502) scale(0.88 1)" text-anchor="start" fill="#000" font-weight="normal" font-size="12.5" textLength="64.32" lengthAdjust="spacingAndGlyphs">Regen/Tag</text>
<text transform="translate(788.5 502) scale(0.88 1)" text-anchor="end" fill="#000" font-weight="normal" font-size="12.5" textLength="36.14" lengthAdjust="spacingAndGlyphs">0.0mm</text>
<text transform="translate(684 518) scale(0.88 1)" text-anchor="start" fill="#000" font-weight="normal" font-size="12.5" textLength="118.75" lengthAdjust="spacingAndGlyphs">Sonnenschein 10:08h</text>
</svg></body></html>
